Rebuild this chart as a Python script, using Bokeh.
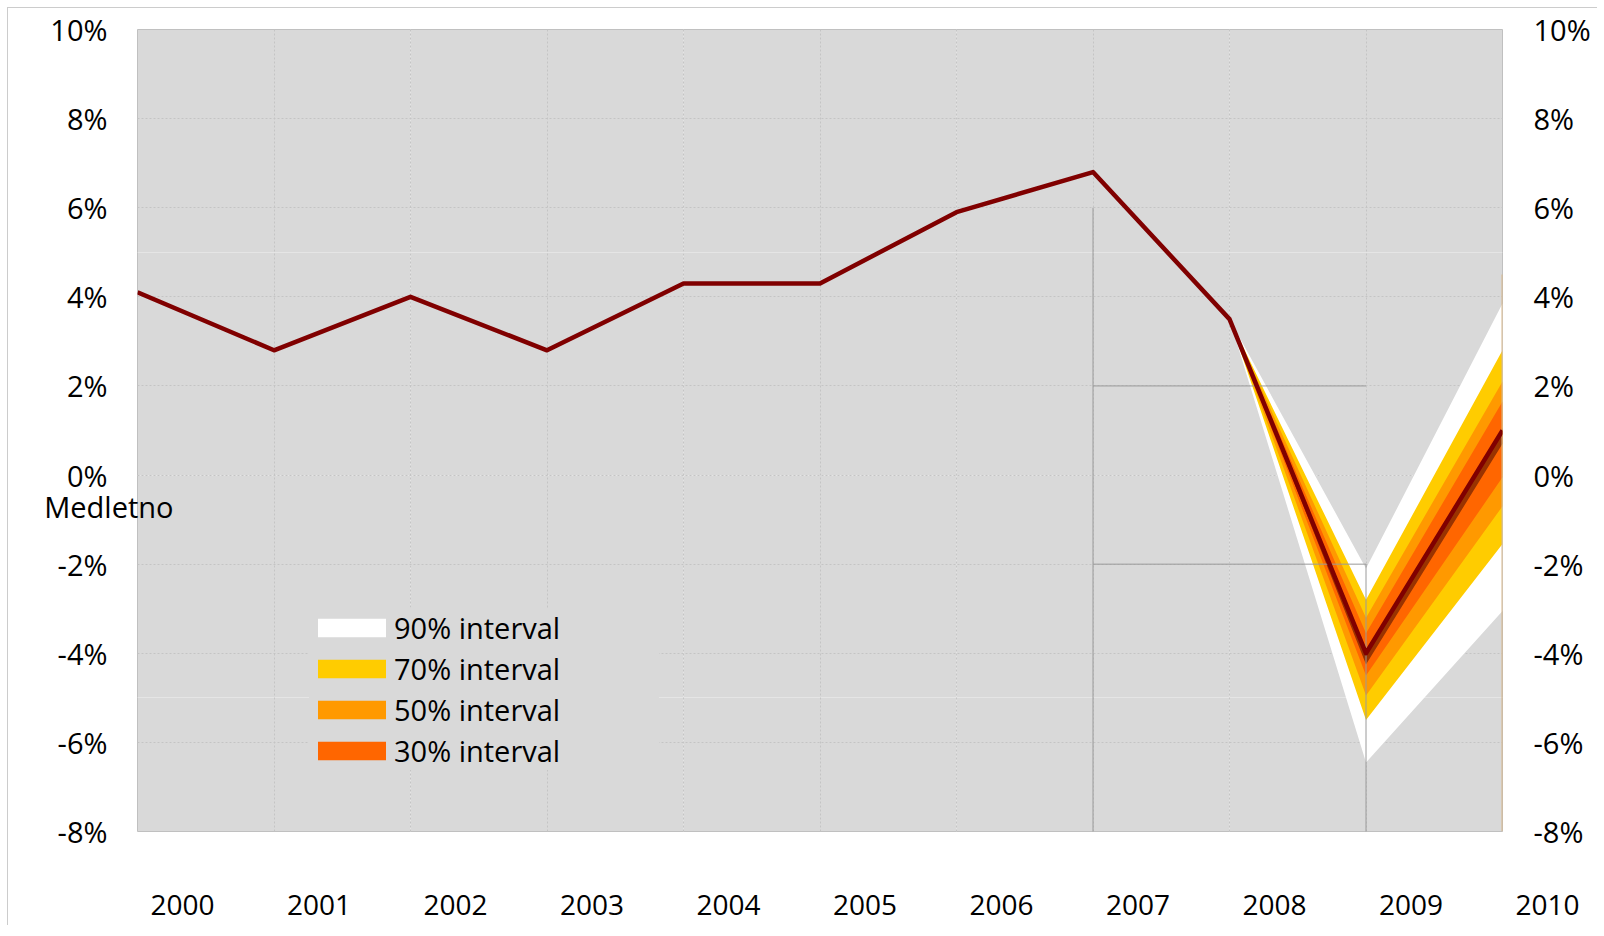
from bokeh.plotting import figure
from bokeh.layouts import column, row
from bokeh.models import (Range1d, LinearAxis, FixedTicker, Grid, Legend, LegendItem,
                          Div, Spacer)
from bokeh.embed import file_html
from bokeh.resources import INLINE

# ---------------- data ----------------
years = ["2000", "2001", "2002", "2003", "2004", "2005",
         "2006", "2007", "2008", "2009", "2010"]
x_idx = list(range(len(years)))
gdp = [4.1, 2.8, 4.0, 2.8, 4.3, 4.3, 5.9, 6.8, 3.5, -4.0, 1.0]

fan_x = [8, 9, 10]
hi90 = [3.5, -2.1, 3.85]
lo90 = [3.5, -6.45, -3.05]
hi70 = [3.5, -2.8, 2.8]
lo70 = [3.5, -5.5, -1.55]
hi50 = [3.5, -3.2, 2.1]
lo50 = [3.5, -4.95, -0.7]
hi30 = [3.5, -3.55, 1.65]
lo30 = [3.5, -4.5, -0.05]
hi10 = [3.5, -3.95, 1.05]
lo10 = [3.5, -4.25, 0.7]

band_labels = ["90% interval", "70% interval", "50% interval", "30% interval"]

y_ticks = [-8, -6, -4, -2, 0, 2, 4, 6, 8, 10]
y_tick_labels = [f"{t}%" for t in y_ticks]

series_label = "Medletno"
series_label_y = -0.71

# reference lines (2007-2009 box)
ref_x0 = [7, 7, 7, 9]
ref_x1 = [9, 9, 7, 9]
ref_y0 = [2, -2, 6, -2]
ref_y1 = [2, -2, -8.2, -8.2]

# ---------------- styling ----------------
FONT = "Open Sans"
FS = "29px"
FS_YEARS = "28px"
BG = "#d9d9d9"
C90, C70, C50, C30, C10 = "#ffffff", "#ffcc00", "#ff9900", "#ff6600", "#993300"
LINE = "#800000"
BORDER = "#cccccc"
W = 1589
LEFT, RIGHT = 129, 95
YEAR_OFFSET = 0.33


def style_axis(ax, standoff, size=FS):
    ax.axis_line_color = None
    ax.major_tick_line_color = None
    ax.minor_tick_line_color = None
    ax.major_tick_out = 0
    ax.major_tick_in = 0
    ax.major_label_standoff = standoff
    ax.major_label_text_font = FONT
    ax.major_label_text_font_size = size
    ax.major_label_text_color = "black"


p = figure(width=W, height=843,
           x_range=Range1d(0, 10), y_range=Range1d(-8, 10),
           x_axis_location=None, y_axis_location=None,
           output_backend="svg", toolbar_location=None,
           min_border_left=LEFT, min_border_right=RIGHT,
           min_border_top=21, min_border_bottom=20)
p.frame_align = False
p.background_fill_color = BG
p.border_fill_color = "white"
p.outline_line_color = "#c0c0c0"
p.outline_line_width = 1

ticker = FixedTicker(ticks=y_ticks)
overrides = {t: lab for t, lab in zip(y_ticks, y_tick_labels)}

ax_left = LinearAxis(ticker=ticker, major_label_overrides=overrides)
style_axis(ax_left, 30)
p.add_layout(ax_left, "left")

ax_name = LinearAxis(ticker=FixedTicker(ticks=[series_label_y]),
                     major_label_overrides={series_label_y: series_label})
style_axis(ax_name, -126)
p.add_layout(ax_name, "left")

ax_right = LinearAxis(ticker=ticker, major_label_overrides=overrides)
style_axis(ax_right, 31)
p.add_layout(ax_right, "right")

gx = Grid(dimension=0, ticker=FixedTicker(ticks=x_idx[1:-1]),
          grid_line_color="#c4c4c4", grid_line_dash="2 2", grid_line_width=1)
gy = Grid(dimension=1, ticker=FixedTicker(ticks=y_ticks[1:-1]),
          grid_line_color="#c4c4c4", grid_line_dash="2 2", grid_line_width=1)
p.add_layout(gx)
p.add_layout(gy)

# fan chart bands
r90 = p.varea(x=fan_x, y1=lo90, y2=hi90, fill_color=C90)
r70 = p.varea(x=fan_x, y1=lo70, y2=hi70, fill_color=C70)
r50 = p.varea(x=fan_x, y1=lo50, y2=hi50, fill_color=C50)
r30 = p.varea(x=fan_x, y1=lo30, y2=hi30, fill_color=C30)
r10 = p.varea(x=fan_x, y1=lo10, y2=hi10, fill_color=C10)

# reference lines
p.segment(x0=ref_x0, y0=ref_y0, x1=ref_x1, y1=ref_y1,
          line_color="#9a9a9a", line_width=1)
p.segment(x0=[10], y0=[4.5], x1=[10], y1=[-8], line_color="#d8b88c", line_width=2)

# main line
p.line(x=x_idx, y=gdp, line_color=LINE, line_width=4.5, line_join="round")

legend = Legend(items=[LegendItem(label=band_labels[0], renderers=[r90]),
                       LegendItem(label=band_labels[1], renderers=[r70]),
                       LegendItem(label=band_labels[2], renderers=[r50]),
                       LegendItem(label=band_labels[3], renderers=[r30])],
                location=(172, 61), orientation="vertical",
                glyph_width=85, glyph_height=23, label_standoff=0,
                label_width=265,
                spacing=2, padding=14, margin=0,
                border_line_color=None,
                background_fill_color=BG, background_fill_alpha=1.0,
                label_text_font=FONT, label_text_font_size=FS,
                label_text_color="black")
p.add_layout(legend)

# year labels row (own figure so labels can sit beyond the plot edge)
frame_px_per_unit = (W - LEFT - RIGHT) / 10.0
yr_end = -YEAR_OFFSET + (W - LEFT) / frame_px_per_unit
q = figure(width=W, height=74,
           x_range=Range1d(-YEAR_OFFSET, yr_end), y_range=Range1d(0, 1),
           x_axis_location=None, y_axis_location=None,
           output_backend="svg", toolbar_location=None,
           min_border_left=LEFT, min_border_right=0,
           min_border_top=0, min_border_bottom=73)
q.frame_align = False
q.outline_line_color = None
q.background_fill_color = "white"
q.border_fill_color = "white"
q.grid.visible = False
ax_years = LinearAxis(ticker=FixedTicker(ticks=x_idx),
                      major_label_overrides={i: y for i, y in zip(x_idx, years)})
style_axis(ax_years, 42, FS_YEARS)
q.add_layout(ax_years, "below")

# outer chart border (top and left hairlines)
top_line = Div(text="", width=W + 1, height=1, margin=0,
               styles={"background-color": BORDER})
left_line = Div(text="", width=1, height=843 + 74, margin=0,
                styles={"background-color": BORDER})
inner = column(p, q, spacing=0)
body = row(Spacer(width=7, height=843 + 74), left_line, inner, spacing=0)
top = row(Spacer(width=7, height=1), top_line, spacing=0)
layout = column(Spacer(width=W + 8, height=7), top, body, spacing=0)

open("out.html", "w").write(file_html(layout, INLINE))
